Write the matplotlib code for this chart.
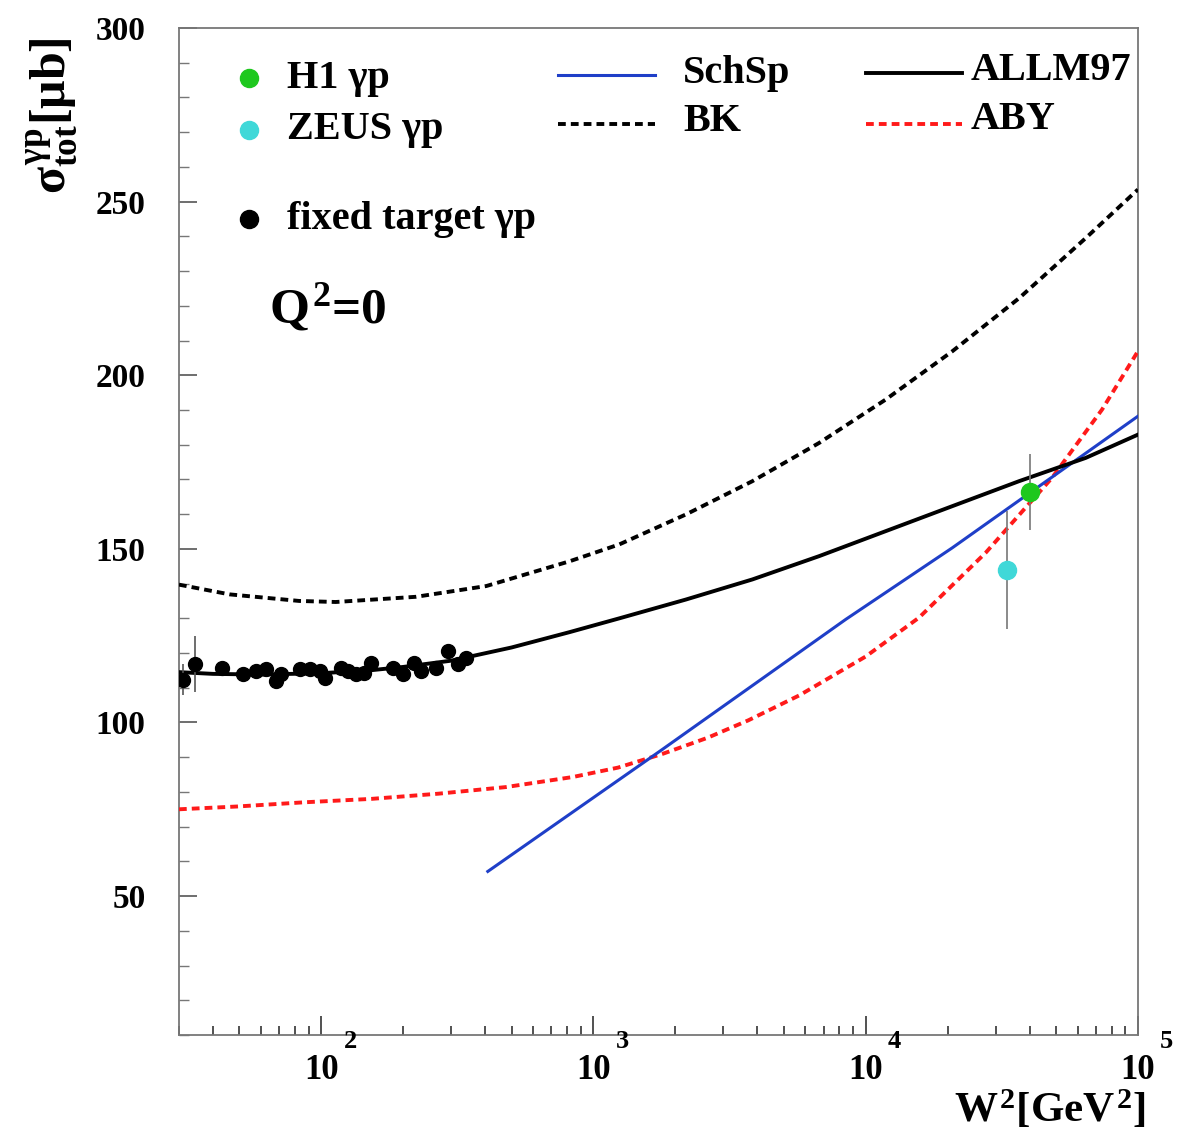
import matplotlib
matplotlib.use("Agg")
import matplotlib.pyplot as plt
from matplotlib.lines import Line2D
from matplotlib.ticker import FixedLocator, LogLocator, NullFormatter
from matplotlib.transforms import blended_transform_factory, offset_copy
import numpy as np

plt.rcParams['font.family'] = ['Liberation Serif', 'DejaVu Serif']
plt.rcParams['font.weight'] = 'bold'
plt.rcParams['mathtext.fontset'] = 'custom'
plt.rcParams['mathtext.rm'] = 'Liberation Serif:bold'
plt.rcParams['mathtext.it'] = 'Liberation Serif:bold'
plt.rcParams['mathtext.bf'] = 'Liberation Serif:bold'

# ---- measurements -------------------------------------------------------
fixed_w2 = [31.0, 34.5, 43.3, 51.5, 57.7, 62.8, 68.4, 71.0, 83.2, 90.6, 98.6,
            102.8, 118.4, 125.3, 134.4, 144.1, 152.5, 183.1, 199.2, 219.6,
            232.6, 264.2, 291.4, 316.9, 340.2]
fixed_sig = [112.3, 116.8, 115.8, 113.9, 114.8, 115.3, 112.0, 113.9, 115.3,
             115.3, 114.8, 112.9, 115.8, 114.8, 113.9, 114.3, 117.2, 115.8,
             113.9, 117.2, 114.8, 115.8, 120.6, 116.7, 118.7]
fixed_err = [4.5, 8.0] + [0.0] * 23

h1_w2, h1_sig, h1_err = [40100.0], [166.3], [11.0]
zeus_w2, zeus_sig, zeus_err = [33000.0], [144.0], [17.0]

# ---- model curves -------------------------------------------------------
allm_w2 = [30, 40, 60, 100, 150, 200, 300, 500, 815, 1245, 2183, 3835, 6740,
           11840, 20800, 36600, 64300, 100000]
allm_sig = [114.5, 114.0, 113.8, 114.2, 115.0, 116.0, 117.8, 121.6, 126.0,
            130.0, 135.4, 141.2, 147.9, 155.1, 162.3, 169.5, 176.2, 182.9]

bk_w2 = [30, 46, 83, 113, 223, 404, 815, 1245, 2183, 3835, 6740, 11840,
         20800, 36600, 64300, 100000]
bk_sig = [139.7, 136.9, 135.0, 134.7, 136.2, 139.3, 146.4, 151.3, 159.9,
          169.5, 180.5, 193.0, 206.9, 222.2, 239.5, 253.5]

aby_w2 = [30, 49, 86, 153, 270, 477, 840, 1230, 1800, 2625, 3700, 5700,
          10000, 15700, 27600, 48400, 73800, 100000]
aby_sig = [75.0, 75.8, 77.0, 78.0, 79.5, 81.4, 84.3, 87.0, 91.0, 95.6, 100.6,
           107.8, 119.0, 130.2, 148.9, 170.5, 190.1, 206.9]

schsp_w2 = [409, 1795, 8450, 20800, 100000]
schsp_sig = [57.1, 92.3, 129.7, 150.3, 188.2]

x_major = [1e2, 1e3, 1e4, 1e5]
y_major = [50, 100, 150, 200, 250, 300]

# ---- figure -------------------------------------------------------------
fig = plt.figure(figsize=(11.82, 11.31), dpi=100)
ax = fig.add_axes([0.1514, 0.0849, 0.8113, 0.8903])
ax.set_xscale('log')
ax.set_xlim(30, 1e5)
ax.set_ylim(10, 300)

dash = (2.0, 1.3)
kw = dict(solid_joinstyle='round', dash_joinstyle='round', zorder=3)
ax.plot(bk_w2, bk_sig, color='black', lw=2.8, dashes=dash, **kw)
ax.plot(aby_w2, aby_sig, color='#ff1a1a', lw=2.8, dashes=dash, **kw)
ax.plot(schsp_w2, schsp_sig, color='#1f3fc8', lw=2.2, **kw)
ax.plot(allm_w2, allm_sig, color='black', lw=2.8, **kw)

fw = np.array(fixed_w2)
fs = np.array(fixed_sig)
fe = np.array(fixed_err)
m = fe > 0
ax.errorbar(fw[m], fs[m], yerr=fe[m], fmt='none', ecolor='#555555', elinewidth=1.2, zorder=4)
ax.plot(fw, fs, 'o', color='black', ms=10, zorder=5)

ax.errorbar(zeus_w2, zeus_sig, yerr=zeus_err, fmt='o', color='#40d8d8', ms=13,
            ecolor='#777777', elinewidth=1.2, zorder=5)
ax.errorbar(h1_w2, h1_sig, yerr=h1_err, fmt='o', color='#1ec81e', ms=13,
            ecolor='#777777', elinewidth=1.2, zorder=6)

# ---- axes styling -------------------------------------------------------
for s in ax.spines.values():
    s.set_color('#777777')
    s.set_linewidth(1.3)

ax.xaxis.set_major_locator(FixedLocator(x_major))
ax.xaxis.set_minor_locator(LogLocator(base=10, subs=np.arange(2, 10)))
ax.xaxis.set_minor_formatter(NullFormatter())
ax.xaxis.set_major_formatter(NullFormatter())
ax.yaxis.set_major_locator(FixedLocator(y_major))
ax.yaxis.set_minor_locator(FixedLocator(list(range(10, 301, 10))))

ax.tick_params(axis='x', which='major', direction='in', length=14, width=1.2,
               colors='#333333', top=False)
ax.tick_params(axis='x', which='minor', direction='in', length=6.5, width=1.2,
               colors='#333333', top=False)
ax.tick_params(axis='y', which='major', direction='in', length=13, width=1.2,
               colors='#555555', labelcolor='black', labelsize=24, pad=24,
               right=False)
ax.tick_params(axis='y', which='minor', direction='in', length=7, width=1.0,
               colors='#777777', right=False)

# decade labels: "10" under the tick, the power raised to its right
xlab_tr = blended_transform_factory(ax.transData, ax.transAxes)
exp_tr = offset_copy(xlab_tr, fig=fig, x=16, y=1, units='points')
for v in x_major:
    ax.text(v, -0.019, '10', transform=xlab_tr, ha='center', va='top', fontsize=25)
    ax.text(v, -0.019, str(int(round(np.log10(v)))), transform=exp_tr,
            ha='left', va='bottom', fontsize=19)

# ---- axis titles --------------------------------------------------------
fig.text(0.044, 0.898, r'$\sigma^{\gamma p}_{tot}[\mu b]$', rotation=90,
         ha='center', va='center', fontsize=36)
fig.text(0.969, 0.0, r'$W^{2}[GeV^{2}]$', ha='right', va='bottom', fontsize=31)

# ---- key ----------------------------------------------------------------
T = ax.transAxes
ax.plot([0.073], [0.950], 'o', color='#1ec81e', ms=13, transform=T, clip_on=False)
ax.plot([0.073], [0.899], 'o', color='#40d8d8', ms=13, transform=T, clip_on=False)
ax.plot([0.073], [0.810], 'o', color='black', ms=13, transform=T, clip_on=False)
ax.text(0.1126, 0.950, 'H1 γp', transform=T, ha='left', va='center', fontsize=29)
ax.text(0.1126, 0.899, 'ZEUS γp', transform=T, ha='left', va='center', fontsize=29)
ax.text(0.1126, 0.810, 'fixed target γp', transform=T, ha='left', va='center', fontsize=29)
ax.text(0.094, 0.722, r'$Q^{2}$=0', transform=T, ha='left', va='center', fontsize=37)

ax.add_line(Line2D([0.395, 0.496], [0.953, 0.953], color='#1f3fc8', lw=2.2, transform=T))
ax.add_line(Line2D([0.395, 0.496], [0.905, 0.905], color='black', lw=2.8, dashes=dash, transform=T))
ax.add_line(Line2D([0.716, 0.8165], [0.955, 0.955], color='black', lw=2.8, transform=T))
ax.add_line(Line2D([0.716, 0.8165], [0.905, 0.905], color='#ff1a1a', lw=2.8, dashes=dash, transform=T))
ax.text(0.5255, 0.955, 'SchSp', transform=T, ha='left', va='center', fontsize=29)
ax.text(0.5255, 0.907, 'BK', transform=T, ha='left', va='center', fontsize=29)
ax.text(0.826, 0.958, 'ALLM97', transform=T, ha='left', va='center', fontsize=29)
ax.text(0.826, 0.909, 'ABY', transform=T, ha='left', va='center', fontsize=29)

fig.savefig('out.png', dpi=100)
